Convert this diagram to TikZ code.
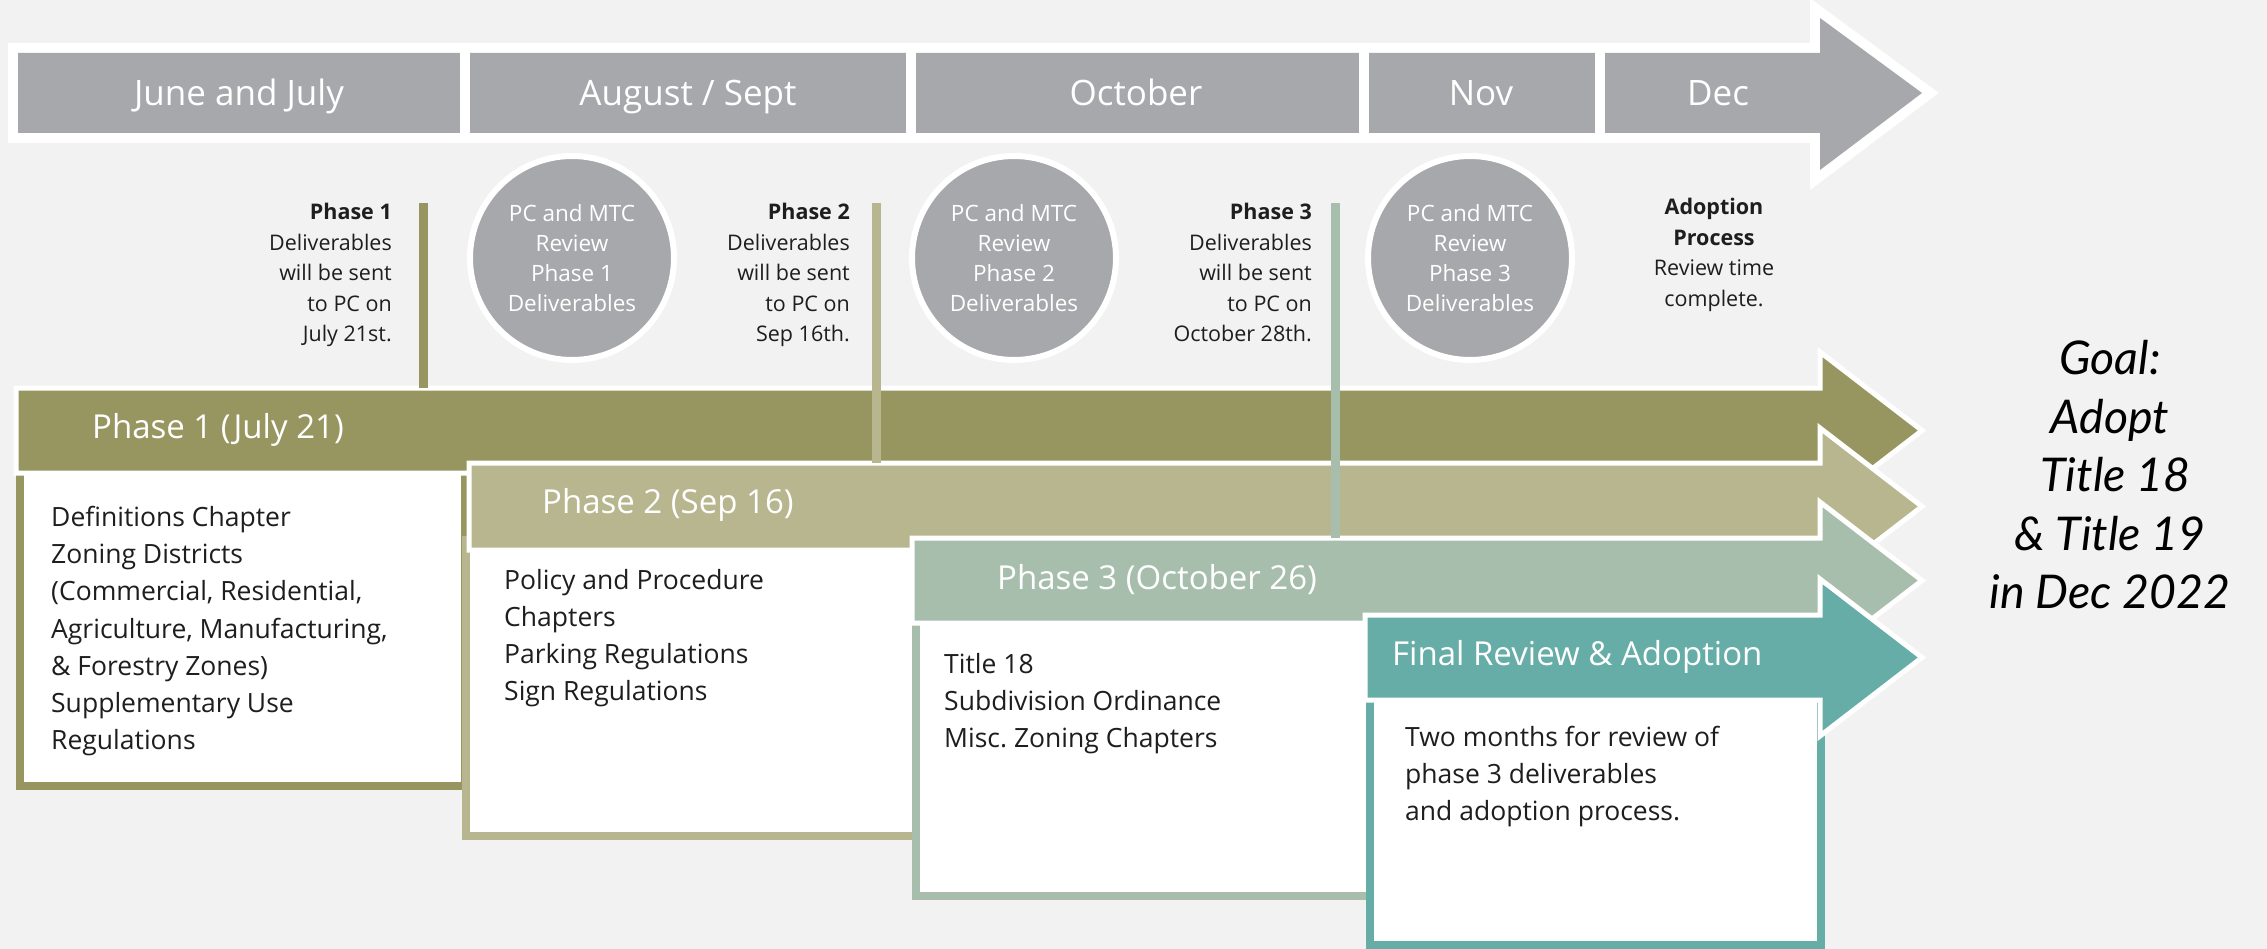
\documentclass[tikz,border=0pt]{standalone}
\usepackage{fontspec}
\setmainfont{Open Sans}
\newfontfamily\goalfont{Lato}
\usetikzlibrary{calc}
\frenchspacing

\definecolor{bg}{HTML}{F2F2F2}
\definecolor{monthgrey}{HTML}{A7A8AB}
\definecolor{olive}{HTML}{979660}
\definecolor{lightolive}{HTML}{B8B68F}
\definecolor{sage}{HTML}{A7BEAD}
\definecolor{tealc}{HTML}{66ADA8}
\definecolor{ink}{HTML}{1E1E1E}

\tikzset{
  monthlbl/.style={text=white, inner sep=0pt, anchor=base, font=\fontsize{35}{42}\selectfont},
  review/.style={circle, fill=monthgrey, draw=white, line width=6pt, minimum size=204pt,
    inner sep=0pt, align=center, text=white, font=\fontsize{22.5}{30}\selectfont},
  note/.style={align=right, inner sep=0pt, anchor=north east, text=ink,
    font=\fontsize{21.5}{30.5}\selectfont},
  adopt/.style={align=center, inner sep=0pt, anchor=north, text=ink,
    font=\fontsize{21.5}{30.5}\selectfont},
  barlbl/.style={text=white, inner sep=0pt, anchor=west, font=\fontsize{33}{40}\selectfont},
  content/.style={align=left, inner sep=0pt, anchor=north west, text=ink,
    font=\fontsize{26.5}{37.2}\selectfont},
  phasebox/.style={fill=white, line width=8pt},
  barshape/.style={draw=white, line width=5pt, line join=miter},
  link/.style={line width=9pt},
  goal/.style={align=center, inner sep=0pt, text=black,
    font=\goalfont\itshape\fontsize{46.5}{58.5}\selectfont},
}

\begin{document}
\begin{tikzpicture}[x=1pt, y=-1pt]
  % canvas
  \fill[bg] (0,0) rectangle (2267,949);
  \useasboundingbox (0,0) rectangle (2267,949);

  % month timeline arrow
  \def\monthpath{(18,53) -- (1820,53) -- (1820,18) -- (1922,93) -- (1820,170) -- (1820,133) -- (18,133) -- cycle}
  \draw[white, line width=20pt, line join=miter] \monthpath;
  \fill[monthgrey] \monthpath;
  \foreach \x in {465,910.5,1363.5,1599.5}
    \fill[white] (\x-5,45) rectangle (\x+5,141);

  \node[monthlbl] (jun) at (239,106) {June and July};
  \node[monthlbl] (aug) at (688,106) {August / Sept};
  \node[monthlbl] (oct) at (1136,106) {October};
  \node[monthlbl] (nov) at (1481,106) {Nov};
  \node[monthlbl] (dec) at (1718,106) {Dec};

  % review circles
  \node[review] (rev1) at (572,258) {PC and MTC\\Review\\Phase 1\\Deliverables};
  \node[review] (rev2) at (1014,258) {PC and MTC\\Review\\Phase 2\\Deliverables};
  \node[review] (rev3) at (1470,258) {PC and MTC\\Review\\Phase 3\\Deliverables};

  % deliverable notes
  \node[note] (note1) at (392,203) {\bfseries Phase 1\hspace{5pt}\\Deliverables\\will be sent\\to PC on\\July 21st.};
  \node[note] (note2) at (850,203) {\bfseries Phase 2\hspace{5pt}\\Deliverables\\will be sent\\to PC on\\Sep 16th.};
  \node[note] (note3) at (1312,203) {\bfseries Phase 3\hspace{5pt}\\Deliverables\\will be sent\\to PC on\\October 28th.};
  \node[adopt] (adoptnote) at (1714,198) {\bfseries Adoption\\\bfseries Process\\Review time\\complete.};

  % phase 1
  \draw[phasebox, draw=olive] (20,460) rectangle (465,786);
  \filldraw[barshape, fill=olive] (16,388) -- (1820,388) -- (1820,352) -- (1922,430.5)
    -- (1820,509) -- (1820,473) -- (16,473) -- cycle;
  \coordinate (bar1) at (16,388);
  \node[barlbl] (lbl1) at (92,430) {Phase 1 (July 21)};
  \node[content] (txt1) at (51,506) {Definitions Chapter\\Zoning Districts\\(Commercial, Residential,\\Agriculture, Manufacturing,\\\& Forestry Zones)\\Supplementary Use\\Regulations};

  % phase 2
  \draw[phasebox, draw=lightolive] (466,540) rectangle (916,836);
  \filldraw[barshape, fill=lightolive] (469,463) -- (1820,463) -- (1820,428) -- (1922,506.5)
    -- (1820,585) -- (1820,550) -- (469,550) -- cycle;
  \coordinate (bar2) at (469,463);
  \node[barlbl] (lbl2) at (542,505) {Phase 2 (Sep 16)};
  \node[content] (txt2) at (504,569) {Policy and Procedure\\Chapters\\Parking Regulations\\Sign Regulations};

  % phase 3
  \draw[phasebox, draw=sage] (916,610) rectangle (1370,896);
  \filldraw[barshape, fill=sage] (912,538) -- (1820,538) -- (1820,502) -- (1922,580.5)
    -- (1820,659) -- (1820,623) -- (912,623) -- cycle;
  \coordinate (bar3) at (912,538);
  \node[barlbl] (lbl3) at (997,580) {Phase 3 (October 26)};
  \node[content] (txt3) at (944,653) {Title 18\\Subdivision Ordinance\\Misc. Zoning Chapters};

  % final review
  \draw[phasebox, draw=tealc] (1370,690) rectangle (1821,945);
  \filldraw[barshape, fill=tealc] (1365,615) -- (1820,615) -- (1820,579) -- (1922,657.5)
    -- (1820,736) -- (1820,700) -- (1365,700) -- cycle;
  \node[barlbl] (lbl4) at (1392,657) {Final Review \& Adoption};
  \node[content] (txt4) at (1405,726) {Two months for review of\\phase 3 deliverables\\and adoption process.};

  % links from deliverable notes down to their phase bars
  \coordinate (n1) at (423,203);
  \coordinate (n2) at (876,203);
  \coordinate (n3) at (1335,203);
  \draw[link, olive] (n1) -- (n1 |- bar1);
  \draw[link, lightolive] (n2) -- (n2 |- bar2);
  \draw[link, sage] (n3) -- (n3 |- bar3);

  % goal statement
  \node[goal] (goalnote) at (2110,475) {Goal:\\Adopt\\\ Title 18\\\& Title 19\\in Dec 2022};
\end{tikzpicture}
\end{document}
